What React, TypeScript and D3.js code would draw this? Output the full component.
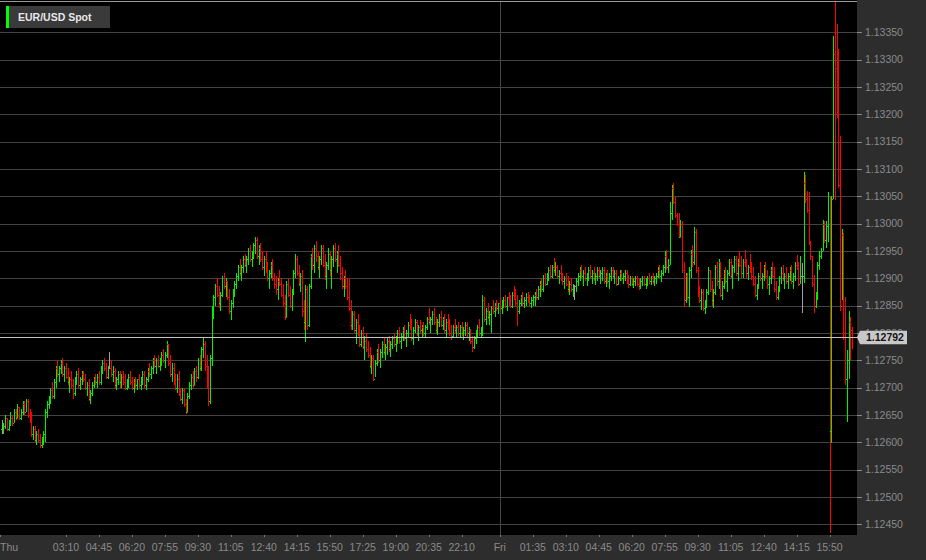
import React from 'react';
import * as d3 from 'd3';

// 5 minute OHLC bars, each [high, low, close] in pips above 1.12000.
// open of every bar = close of the bar before it
const firstOpen = 62.5;

const thursdayMorning = [
  [64, 61.5, 62.5], [63.5, 61.5, 63], [65, 62.5, 64.5], [64.5, 62, 62.5], [64, 62, 63.5], [65.5, 63, 64.5],
  [65, 63, 63.5], [66, 63.5, 65.5], [66, 64, 64.5], [67, 64.5, 66.5], [66.5, 64, 64.5], [66, 64, 65.5],
  [67.5, 65, 67], [67.5, 65, 65.5], [68, 65.5, 67.5], [68, 64.5, 65], [66, 63.5, 64], [65.5, 61, 61.5],
  [63, 60.5, 62.5], [63, 60, 60.5], [62, 59.5, 61.5], [62.5, 60, 60.5], [61.5, 59, 59.5], [61, 59, 60.5], [62, 59.5, 61.5],
  [66, 60, 65.5], [67.5, 64.5, 67], [68.5, 66, 68], [70, 67, 69.5], [71, 68, 68.5], [71.5, 68, 71],
  [74, 70, 73.5], [75, 72, 72.5], [74, 71, 73.5], [75, 72.5, 74.5], [75.5, 72, 72.5], [74, 71, 73.5], [74.5, 71.5, 72], [73.5, 70.5, 71],
  [72, 69, 71.5], [73, 70, 70.5], [71.5, 68, 69], [72, 68.5, 71.5], [73, 70.5, 72.5], [73.5, 70, 70.5], [72, 69.5, 71.5], [73, 70.5, 72.5],
  [73, 71, 71.5], [72.5, 69.5, 70], [71, 68.5, 70.5], [71.5, 67.5, 68], [69.5, 67, 69],
  [71, 68.5, 70.5], [72, 70, 71.5], [72.5, 70.5, 71], [72.5, 70, 72], [73, 70.5, 71], [74, 70.5, 73.5],
];

const thursdayMidday = [
  [75, 72.5, 74.5], [75.5, 73, 73.5], [74.5, 71.5, 72], [74, 71.5, 73.5], [76.5, 73.5, 73.5], [75, 72, 72.5],
  [74, 71, 73], [73.5, 70, 70.5], [72, 69.5, 71.5], [73, 70.5, 72.5], [73, 70, 71], [72.5, 70, 72],
  [73, 70.5, 71], [72.5, 69.5, 70], [71.5, 69.5, 71], [72.5, 70, 72], [73, 70.5, 71],
  [72, 69.5, 70], [71.5, 69, 71], [72, 70, 70.5], [71.5, 69.5, 71.5], [72.5, 70, 70.5], [72, 69.5, 71.5],
  [73, 70.5, 72.5], [73, 70, 70.5], [72, 69.5, 71.5], [73.5, 71, 73], [74.5, 72, 72.5],
  [74, 71.5, 73.5], [75.5, 72.5, 75], [76, 73.5, 74], [75.5, 72.5, 75], [76, 73.5, 74], [75.5, 73, 75],
  [76.5, 74, 76], [77, 74.5, 75], [76.5, 73.5, 76], [78.5, 75.5, 78], [78, 74, 74.5],
  [76, 72, 72.5], [74.5, 71, 73.5], [74.5, 70.5, 71], [72.5, 69.5, 70],
  [72.5, 69, 71.5], [73, 68.5, 69], [70, 67.5, 68],
  [70, 67, 69.5], [70, 66.5, 67], [68, 65.2, 65.5], [69, 65.5, 68.5],
  [71, 68, 70.5], [72.5, 69.5, 72], [73, 70, 70.5], [73.5, 70.5, 73], [74, 71, 72],
  [75.5, 71.5, 75], [76, 73, 73.5], [77.5, 73, 77], [79, 75.5, 78],
  [78.5, 73, 74], [76, 70, 71], [74, 66.7, 67.5],
];

const thursdayAfternoon = [
  [76, 67, 75.5], [84.9, 74, 84], [87, 82.5, 86.5], [89, 85, 88.5],
  [90, 86.5, 87], [88.5, 84.5, 85.5], [87.5, 84, 87], [90.5, 86.5, 90], [91, 88, 88.5], [90, 86.5, 89.5],
  [89.5, 86, 86.5], [88, 83.5, 84], [86, 82.4, 85.5], [88, 84.5, 87.5], [89.5, 86.5, 89],
  [91, 88, 90.5], [92.5, 89.5, 92], [93.5, 90.5, 91], [92.5, 89.5, 92], [94, 91, 93.5], [94.5, 92, 92.5],
  [94, 91, 93.5], [95.5, 92.5, 95], [96, 93, 93.5], [95, 92, 94.5], [96.5, 93.5, 96],
  [97.6, 94.5, 97], [97.5, 93.5, 94], [96, 92.5, 95.5],
  [96.5, 93, 93.5], [95, 91.5, 92], [94, 90.5, 93.5], [95, 91, 91.5],
  [93, 89.5, 90], [91.5, 88, 91], [93, 90, 92.5], [93.5, 89.5, 90], [91, 88, 89],
  [90.5, 87, 88], [90, 86, 89.5], [91.5, 88.5, 89], [90, 86.5, 87],
  [89, 85, 85.5], [87, 82.4, 83], [89.5, 83, 89], [90, 86.5, 87], [88.5, 84.5, 85], [88, 84, 87.5],
  [91.5, 87, 91], [94.5, 90, 93.5], [94, 90.5, 91], [92.5, 88.5, 89],
  [91, 87.5, 90.5], [91.5, 83, 84], [86, 80.5, 82],
  [88.8, 78.4, 88], [88.5, 80.5, 81.5], [89, 81, 88.5],
  [94.5, 88, 94], [95.5, 91.5, 92.5], [96, 91, 95.5], [96.8, 93, 94],
  [95, 91.5, 92], [94, 90, 93.5], [96, 92.5, 95.5], [96, 92, 92.5], [94.5, 89.7, 90.5], [93, 88, 92.5],
  [95.5, 91.5, 94.5], [95, 90.5, 91.5], [94, 88, 93.5], [96, 92, 95.5],
  [96.5, 93, 93.5], [95, 91, 94.5], [96, 92, 92.5], [94, 89.7, 91],
  [92, 88, 88.5], [90.5, 86.5, 90], [91.5, 88, 88.5], [90, 86, 86.5],
  [90, 84, 84.5], [86, 80.5, 81.5], [84, 80.5, 83.5],
  [84, 80, 80.5], [82.5, 78, 82], [83.5, 79.5, 80], [81.5, 77.4, 78], [80.5, 77.5, 80],
  [81, 77, 77.5], [79.5, 75, 78.5], [80, 76.5, 77], [78.5, 75.5, 76],
  [77.5, 73.5, 74], [76, 72.5, 75.5], [76, 71.2, 71.5], [75, 72, 74.5], [77, 74, 76.5],
  [78, 74.5, 75], [77, 73.5, 76.5], [78.5, 75.5, 78], [79, 76, 76.5], [78, 75, 77.5],
  [79, 76, 78.5], [79.5, 76.5, 77], [78.5, 75.6, 78], [79.5, 77, 79], [80, 77.5, 78], [79.5, 76.5, 79],
  [80.5, 78, 80], [81, 78, 78.5], [80, 77, 79.5], [81, 78.5, 80.5], [81.5, 78.5, 79], [80.5, 77.5, 80],
  [82, 79, 81.5], [83.5, 80.5, 81], [82.5, 78.5, 79], [81, 77.8, 80.5], [82.5, 80, 82],
  [82.4, 79.5, 80],
];

const thursdayEvening = [
  [81.5, 78.6, 81], [82.4, 80, 80.5], [81.5, 79, 81], [82, 79.5, 80], [81.5, 79, 81],
  [83, 80.5, 82.5], [84.5, 81.5, 82], [83, 80, 82.5], [84, 81.5, 83.5], [84.5, 81.5, 82], [83, 80, 80.5], [82.5, 79.7, 82],
  [83.5, 81, 83], [84, 81, 81.5], [83, 80.5, 82.5], [83.5, 80, 80.5], [82.5, 79, 82], [83.5, 80.5, 81],
  [82.5, 79.5, 80], [81.5, 78.8, 79.5], [81.5, 79, 81], [82.5, 80, 80.5], [81.5, 79, 81], [82, 79.5, 80],
  [81.5, 79, 81], [82, 79.5, 80], [81, 78.7, 80.5], [82, 79.5, 81.5], [82, 79, 80],
  [81, 78.5, 80.5], [80.8, 78, 78.5], [79.5, 76.6, 77.5], [79.5, 77, 79], [80.5, 78, 80],
  [81.5, 79, 81], [82.5, 79.5, 80], [81, 79, 80.5], [87, 79.5, 86], [86.5, 82, 82.5],
  [84.5, 81.5, 84], [85.5, 82.5, 83], [84, 81.5, 83.5], [85, 80, 84.5],
  [86, 83.5, 84], [85.5, 83, 85], [86, 84, 84.5], [85.5, 83.5, 85.5], [86.5, 84, 84.5],
];

const fridayMorning = [
  [86, 83.5, 85.5],
  [86.5, 84.5, 86], [87, 84.5, 85], [86.5, 84, 86.5], [87.5, 85, 86], [87, 84.5, 85],
  [87.5, 84.5, 87], [88.5, 86, 86.5], [88, 85, 85.5], [87, 81.3, 84], [86, 83.5, 85.5], [87, 85, 86.5],
  [87.5, 85, 85.5], [86.5, 84.6, 86], [87.3, 85, 86.5], [87.5, 85.5, 86], [87, 85, 85.5], [86.5, 84.6, 86],
  [87, 85, 86.5], [87.5, 85, 87], [88, 86, 86.5], [88.5, 86, 88],
  [89.5, 86.5, 89], [90, 87.5, 88], [90.6, 87.5, 90], [91, 88.5, 89],
  [91, 88.8, 90.5], [92, 89.5, 91.5], [92.5, 90, 90.5], [92.5, 90, 92], [93.7, 91, 91.5], [93, 90.5, 92],
  [92.5, 90, 90.5], [91.5, 89, 91], [92.4, 89.5, 90], [91, 88.8, 89.5], [90.5, 88, 90], [91, 88.5, 89],
  [90.5, 87.5, 88], [89.5, 87, 89], [90, 87.5, 88], [89, 86.5, 88.5], [88.8, 86, 88.5], [90, 87.5, 89.5],
  [91, 88.5, 90.5], [92, 89.5, 91.5], [92.4, 90, 90.5], [91.5, 88.5, 91], [92, 89.5, 90], [91, 88.5, 90.5],
  [92, 89.5, 91.5], [92.4, 90, 90.5], [91.5, 89, 91], [92, 89.5, 90], [91, 88.8, 90.5],
  [92, 89.5, 91.5], [92, 90, 90.5], [91.5, 89, 91], [92, 89.5, 91.5], [92, 89, 89.5], [91, 88.4, 90.5],
  [91.5, 89, 89.5], [91, 88, 90.5], [92, 89.5, 91.5], [92, 90, 90.5], [91.5, 89, 91], [91.5, 88.5, 89],
  [90.5, 88.8, 90], [91.5, 89.5, 91], [91.5, 89.5, 90], [91, 89, 90.5], [91.5, 89.5, 91], [91.5, 89, 89.5],
  [90.6, 88.2, 89], [90.5, 88.5, 90], [90.5, 88.5, 89], [90, 88.2, 89.5], [90.5, 88.5, 90], [90.5, 88.5, 89],
  [90, 87.9, 88.5], [90, 88, 89.5], [90.5, 88.5, 90], [90.5, 88.5, 89], [90, 88, 89.5],
  [90.5, 88.6, 90], [91, 89, 89.5], [90.5, 88.8, 90.5], [91, 89, 89.5], [90.5, 88.6, 90], [91, 89, 90.5],
  [92, 90, 91.5], [92.4, 90, 90.5], [91.5, 89.3, 91], [92.5, 90.5, 92],
];

const fridayAfternoon = [
  [95, 91, 94], [95.2, 91.5, 92], [93.5, 91, 92.5], [104, 92.5, 102], [107, 100.7, 106.5],
  [107.4, 103.5, 104], [105, 101, 101.5], [102, 99.5, 100], [102, 97.4, 97.5], [100.7, 97.5, 100], [100.5, 91, 91.5], [93, 84.7, 86],
  [91, 85.5, 90.5], [91, 86, 86.5], [92, 84.8, 91.5], [95.2, 90, 94.5], [96, 92, 93], [99.4, 92.5, 98.5], [99, 91, 91.5],
  [92, 86.5, 87], [88.5, 85.5, 86], [88, 84.2, 87.5], [88, 84, 84.5], [86, 83.4, 85.5], [88, 84.5, 87.5], [92, 87, 91.5],
  [91.5, 87.5, 88], [89.5, 85, 86], [88, 84.5, 87.5], [92.5, 87, 92], [93, 88.5, 89.5], [93.5, 88, 93], [93, 86.5, 87],
  [89.5, 86, 88.5], [91.5, 88, 91], [92, 89, 89.5], [91.5, 87.5, 91], [93.5, 90.5, 93], [93.5, 90, 90.5],
  [92.5, 88, 92], [94, 91, 93.5], [94, 90.5, 91], [93.5, 89.5, 93], [95, 92, 92.5], [94, 90, 91],
  [93.5, 90, 93], [95.2, 92, 92.5], [93.5, 90, 91], [92.5, 89.7, 92], [94.5, 91, 91.5], [93, 89.7, 90.5],
  [92, 88.5, 89], [90.5, 86.5, 87], [89, 86, 88.5], [91, 88, 90.5], [93, 89.5, 90], [91, 88, 90.5],
  [92.5, 89.5, 92], [93, 90, 90.5], [91.5, 88, 89], [90.5, 87, 90], [92, 89, 91.5],
  [93, 90, 90.5], [92, 87.5, 88], [89.5, 86, 86.5], [88.5, 86, 88], [90.5, 87.5, 90], [92, 89, 91],
  [92.4, 89.5, 90], [91, 88, 90.5], [92, 89, 89.5], [91, 88, 90.5], [92, 89.5, 91.5], [92.5, 89, 89.5],
  [91, 88, 90.5], [93, 89.5, 92.5], [94.3, 91.5, 92], [93, 88.5, 89],
  [94, 89, 90.5], [92.8, 83.6, 90.5],
  [109.5, 89.2, 107.5], [108.9, 103.8, 104.5], [106, 102, 102.5], [105.8, 96, 96.5], [96.8, 93.3, 94],
  [94, 88.4, 89], [90.6, 83.6, 85], [87.5, 84.5, 86.5], [93, 86, 92.5], [95, 91.5, 94],
  [95.5, 93.5, 95], [100.7, 95, 100], [100.5, 96.5, 97], [100.4, 95.5, 99.5], [105.8, 96.7, 105],
  [105, 43.4, 62], [105, 59.8, 104.5], [134.4, 104.5, 131], [140.5, 104.3, 128.5], [136.5, 119.3, 120], [132, 106.5, 107],
  [116, 84, 85], [99, 86, 98], [98.3, 78.8, 80], [86.5, 70.5, 71.5], [76.8, 63.7, 75], [84, 71.5, 82], [83, 75, 80.5], [81, 77, 79.2],
];

const priceTicks = [
  1.1245, 1.125, 1.1255, 1.126, 1.1265, 1.127, 1.1275, 1.128, 1.1285, 1.129,
  1.1295, 1.13, 1.1305, 1.131, 1.1315, 1.132, 1.1325, 1.133, 1.1335,
];
const timeTickLabels = [
  'Thu', '03:10', '04:45', '06:20', '07:55', '09:30', '11:05', '12:40', '14:15', '15:50',
  '17:25', '19:00', '20:35', '22:10',
  'Fri', '01:35', '03:10', '04:45', '06:20', '07:55', '09:30', '11:05', '12:40', '14:15', '15:50',
];
const symbolName = 'EUR/USD Spot';
const lastPrice = 1.12792;

const W = 926;
const H = 560;
const plotRight = 857;
const plotTop = 2;
const plotBottom = 535;
const font = '"Liberation Sans", Arial, sans-serif';

const dayStart = new Date(2019, 5, 13, 0, 0);
const firstBar = new Date(2019, 5, 13, 0, 5);
const toPrice = (p: number) => 1.12 + p / 10000;

const App = () => {
  const x = d3.scaleTime()
    .domain([dayStart, d3.timeMinute.offset(dayStart, 2469)])
    .range([0, plotRight]);
  const y = d3.scaleLinear()
    .domain([1.1245, 1.1335])
    .range([524.3, 32.3]);

  const raw = [...thursdayMorning, ...thursdayMidday, ...thursdayAfternoon,
    ...thursdayEvening, ...fridayMorning, ...fridayAfternoon];
  let prev = firstOpen;
  const bars = raw.map((b, i) => {
    const [h, l, c] = b;
    const bar = { t: d3.timeMinute.offset(firstBar, 5 * i), o: prev, h, l, c };
    prev = c;
    return bar;
  });

  let day = 0;
  const timeTicks = timeTickLabels.map(lab => {
    let mins = 0;
    if (lab === 'Thu') day = 0;
    else if (lab === 'Fri') day = 1;
    else {
      const [hh, mm] = lab.split(':').map(Number);
      mins = hh * 60 + mm;
    }
    return { lab, t: d3.timeMinute.offset(dayStart, day * 1440 + mins) };
  });

  const colorOf = (o: number, c: number) => (c > o ? '#00f000' : c < o ? '#ff0000' : '#a0a0a0');
  const lastY = y(lastPrice);

  return (
    <svg width={W} height={H} style={{ position: 'absolute', left: 0, top: 0, background: '#000' }} fontFamily={font}>
      <defs>
        <clipPath id="plotClip">
          <rect x={0} y={plotTop} width={plotRight} height={plotBottom - plotTop} />
        </clipPath>
      </defs>
      <rect x={0} y={0} width={W} height={H} fill="#000" />

      {/* grid */}
      <g shapeRendering="crispEdges">
        {priceTicks.map(p => (
          <line key={p} x1={0} x2={plotRight} y1={Math.round(y(p)) + 0.5} y2={Math.round(y(p)) + 0.5} stroke="#434343" />
        ))}
        <line x1={Math.round(x(timeTicks[14].t)) + 0.5} x2={Math.round(x(timeTicks[14].t)) + 0.5} y1={plotTop} y2={plotBottom} stroke="#474747" />
        <line x1={0} x2={plotRight} y1={1.5} y2={1.5} stroke="#9a9a9a" />
      </g>

      {/* OHLC bars */}
      <g clipPath="url(#plotClip)" shapeRendering="crispEdges">
        {bars.map((b, i) => {
          const px = Math.round(x(b.t));
          const yh = Math.round(y(toPrice(b.h)));
          const yl = Math.round(y(toPrice(b.l)));
          const col = colorOf(b.o, b.c);
          return (
            <g key={i} fill={col}>
              <rect x={px} y={yh} width={1} height={Math.max(1, yl - yh)} />
              <rect x={px - 1} y={Math.round(y(toPrice(b.o)))} width={1} height={1} />
              <rect x={px + 1} y={Math.round(y(toPrice(b.c)))} width={1} height={1} />
            </g>
          );
        })}
      </g>

      {/* last price line */}
      <line x1={0} x2={plotRight} y1={Math.round(lastY) + 0.5} y2={Math.round(lastY) + 0.5} stroke="#c4c4c4" shapeRendering="crispEdges" />

      {/* right axis panel */}
      <rect x={plotRight} y={0} width={W - plotRight} height={H} fill="#2d2d2d" />
      <rect x={0} y={plotBottom} width={W} height={H - plotBottom} fill="#2d2d2d" />
      <g shapeRendering="crispEdges">
        {priceTicks.map(p => (
          <line key={p} x1={plotRight} x2={plotRight + 5} y1={Math.round(y(p)) + 0.5} y2={Math.round(y(p)) + 0.5} stroke="#8a8a8a" />
        ))}
      </g>
      {priceTicks.map(p => (
        <text key={p} x={865} y={y(p)} dy="0.36em" fontSize={10.5} fill="#8a8a8a">{d3.format('.5f')(p)}</text>
      ))}

      {/* last price label */}
      <path d={`M${plotRight},${lastY} L${plotRight + 3},${lastY - 6.5} L907,${lastY - 6.5} L907,${lastY + 7} L${plotRight + 3},${lastY + 7} Z`} fill="#c8c8c8" />
      <text x={866} y={lastY} dy="0.36em" fontSize={10.5} fontWeight="bold" fill="#141414">{d3.format('.5f')(lastPrice)}</text>

      {/* bottom time axis */}
      <g shapeRendering="crispEdges">
        {timeTicks.map((tk, i) => (
          <line key={i} x1={Math.round(x(tk.t)) + 0.5} x2={Math.round(x(tk.t)) + 0.5} y1={plotBottom} y2={plotBottom + 2} stroke="#777" />
        ))}
      </g>
      {timeTicks.map((tk, i) => {
        const tx = x(tk.t);
        return (
          <text key={i} x={tx < 10 ? 0 : tx} y={550.5} fontSize={10.5} fill="#8a8a8a" textAnchor={tx < 10 ? 'start' : 'middle'}>{tk.lab}</text>
        );
      })}

      {/* legend */}
      <rect x={6} y={6} width={104} height={22} fill="#3a3a3a" />
      <rect x={6} y={6} width={3} height={22} fill="#00ff00" />
      <text x={18} y={21.3} fontSize={10.5} fontWeight="bold" fill="#e8e8e8">{symbolName}</text>
    </svg>
  );
};

export default App;
